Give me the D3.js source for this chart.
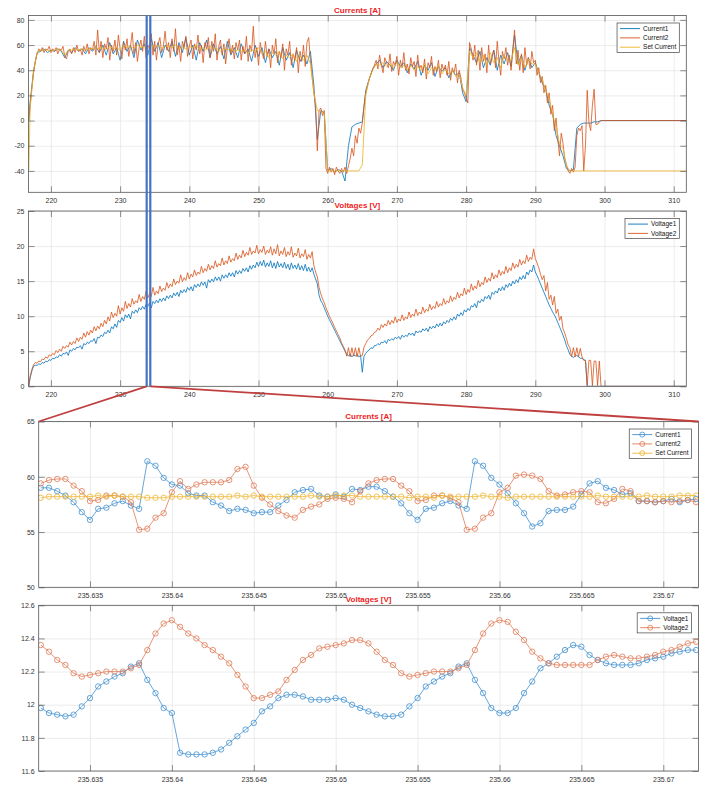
<!DOCTYPE html>
<html>
<head>
<meta charset="utf-8">
<script src="https://cdn.jsdelivr.net/npm/d3@7"></script>
<style>
  body { margin: 0; background: #fff; }
  svg { display: block; font-family: "Liberation Sans", Arial, sans-serif; }
  .tick text { fill: #333; font-size: 7px; }
  .grid line { stroke: #e4e4e4; stroke-width: 0.7; }
  .grid .domain, .axis .domain { display: none; }
  .axis line { stroke: #444; stroke-width: 0.6; }
  .frame { fill: none; stroke: #555; stroke-width: 0.8; }
  .title { fill: #ee1c25; font-size: 8px; font-weight: bold; text-anchor: middle; }
  .legend rect { fill: #fff; stroke: #444; stroke-width: 0.7; }
  .legend text { font-size: 6.5px; fill: #111; }
</style>
</head>
<body>
<div id="chart"></div>
<script>
// ---------- overview data (top two panels) ----------
// coarse grid, 0.5 s
const timeTop = [216.8,
  217, 217.5, 218, 218.5, 219, 219.5, 220, 220.5, 221, 221.5, 222, 222.5, 223, 223.5, 224, 224.5, 225, 225.5, 226, 226.5,
  227, 227.5, 228, 228.5, 229, 229.5, 230, 230.5, 231, 231.5, 232, 232.5, 233, 233.5, 234, 234.5, 235, 235.5, 236, 236.5,
  237, 237.5, 238, 238.5, 239, 239.5, 240, 240.5, 241, 241.5, 242, 242.5, 243, 243.5, 244, 244.5, 245, 245.5, 246, 246.5,
  247, 247.5, 248, 248.5, 249, 249.5, 250, 250.5, 251, 251.5, 252, 252.5, 253, 253.5, 254, 254.5, 255, 255.5, 256, 256.5,
  257, 257.5, 258, 258.5, 259, 259.5, 260, 260.5, 261, 261.5, 262, 262.5, 263, 263.5, 264, 264.5, 265, 265.5, 266, 266.5,
  267, 267.5, 268, 268.5, 269, 269.5, 270, 270.5, 271, 271.5, 272, 272.5, 273, 273.5, 274, 274.5, 275, 275.5, 276, 276.5,
  277, 277.5, 278, 278.5, 279, 279.5, 280, 280.5, 281, 281.5, 282, 282.5, 283, 283.5, 284, 284.5, 285, 285.5, 286, 286.5,
  287, 287.5, 288, 288.5, 289, 289.5, 290, 290.5, 291, 291.5, 292, 292.5, 293, 293.5, 294, 294.5, 295, 295.5, 296, 296.5,
  297, 297.5, 298, 298.5, 299, 299.5,
  300, 311.8];

// fine grid, 0.25 s
const timeFine = [216.8,
  217, 217.25, 217.5, 217.75, 218, 218.25, 218.5, 218.75, 219, 219.25, 219.5, 219.75, 220, 220.25, 220.5, 220.75, 221, 221.25, 221.5, 221.75,
  222, 222.25, 222.5, 222.75, 223, 223.25, 223.5, 223.75, 224, 224.25, 224.5, 224.75, 225, 225.25, 225.5, 225.75, 226, 226.25, 226.5, 226.75,
  227, 227.25, 227.5, 227.75, 228, 228.25, 228.5, 228.75, 229, 229.25, 229.5, 229.75, 230, 230.25, 230.5, 230.75, 231, 231.25, 231.5, 231.75,
  232, 232.25, 232.5, 232.75, 233, 233.25, 233.5, 233.75, 234, 234.25, 234.5, 234.75, 235, 235.25, 235.5, 235.75, 236, 236.25, 236.5, 236.75,
  237, 237.25, 237.5, 237.75, 238, 238.25, 238.5, 238.75, 239, 239.25, 239.5, 239.75, 240, 240.25, 240.5, 240.75, 241, 241.25, 241.5, 241.75,
  242, 242.25, 242.5, 242.75, 243, 243.25, 243.5, 243.75, 244, 244.25, 244.5, 244.75, 245, 245.25, 245.5, 245.75, 246, 246.25, 246.5, 246.75,
  247, 247.25, 247.5, 247.75, 248, 248.25, 248.5, 248.75, 249, 249.25, 249.5, 249.75, 250, 250.25, 250.5, 250.75, 251, 251.25, 251.5, 251.75,
  252, 252.25, 252.5, 252.75, 253, 253.25, 253.5, 253.75, 254, 254.25, 254.5, 254.75, 255, 255.25, 255.5, 255.75, 256, 256.25, 256.5, 256.75,
  257, 257.25, 257.5, 257.75, 258, 258.25, 258.5, 258.75, 259, 259.25, 259.5, 259.75, 260, 260.25, 260.5, 260.75, 261, 261.25, 261.5, 261.75,
  262, 262.25, 262.5, 262.75, 263, 263.25, 263.5, 263.75, 264, 264.25, 264.5, 264.75, 265, 265.25, 265.5, 265.75, 266, 266.25, 266.5, 266.75,
  267, 267.25, 267.5, 267.75, 268, 268.25, 268.5, 268.75, 269, 269.25, 269.5, 269.75, 270, 270.25, 270.5, 270.75, 271, 271.25, 271.5, 271.75,
  272, 272.25, 272.5, 272.75, 273, 273.25, 273.5, 273.75, 274, 274.25, 274.5, 274.75, 275, 275.25, 275.5, 275.75, 276, 276.25, 276.5, 276.75,
  277, 277.25, 277.5, 277.75, 278, 278.25, 278.5, 278.75, 279, 279.25, 279.5, 279.75, 280, 280.25, 280.5, 280.75, 281, 281.25, 281.5, 281.75,
  282, 282.25, 282.5, 282.75, 283, 283.25, 283.5, 283.75, 284, 284.25, 284.5, 284.75, 285, 285.25, 285.5, 285.75, 286, 286.25, 286.5, 286.75,
  287, 287.25, 287.5, 287.75, 288, 288.25, 288.5, 288.75, 289, 289.25, 289.5, 289.75, 290, 290.25, 290.5, 290.75, 291, 291.25, 291.5, 291.75,
  292, 292.25, 292.5, 292.75, 293, 293.25, 293.5, 293.75, 294, 294.25, 294.5, 294.75, 295, 295.25, 295.5, 295.75, 296, 296.25, 296.5, 296.75,
  297, 297.25, 297.5, 297.75, 298, 298.25, 298.5, 298.75, 299, 299.25, 299.5, 299.75,
  300, 311.8];

const current1Top = [0,
  15, 40, 54, 55, 57, 54, 56, 55, 57, 55, 50, 56, 54, 58, 55, 57, 53, 58, 55, 59,
  54, 60, 52, 62, 53, 58, 48, 63, 55, 60, 50, 64, 56, 61, 52, 65, 55, 62, 50, 60,
  55, 63, 51, 62, 54, 66, 52, 60, 48, 62, 55, 64, 50, 61, 53, 59, 49, 63, 52, 58,
  50, 61, 53, 57, 47, 60, 51, 58, 46, 57, 50, 55, 44, 58, 48, 54, 42, 56, 47, 52,
  45, 55, 28, -15, 8, 6, -40, -38, -41, -39, -40, -48, -20, -5, -3, -2, -1, 24, 33, 41,
  45, 48, 42, 47, 44, 40, 48, 43, 46, 38, 45, 41, 47, 36, 44, 40, 46, 35, 43, 39,
  42, 34, 40, 36, 38, 22, 15, 58, 52, 46, 55, 42, 50, 44, 56, 40, 52, 45, 54, 43,
  68, 45, 52, 40, 50, 42, 46, 38, 30, 25, 12, 5, -12, -20, -28, -38, -40, -39, -6, -3,
  -2, -2, -2, -1, -1, 0,
  0, 0];

const current2Fine = [0,
  12, 26, 38, 47, 53, 57, 55, 58, 54, 57, 56, 59, 54, 57, 55, 58, 53, 57, 56, 59,
  51, 49, 55, 57, 53, 58, 54, 60, 55, 57, 52, 59, 55, 61, 53, 58, 56, 63, 52, 72,
  54, 63, 50, 61, 57, 66, 48, 60, 55, 64, 52, 68, 57, 49, 62, 56, 65, 51, 59, 70,
  53, 62, 47, 58, 64, 55, 67, 50, 60, 57, 69, 52, 63, 48, 61, 66, 54, 59, 71, 56,
  62, 50, 65, 55, 73, 52, 60, 47, 63, 58, 67, 51, 59, 64, 49, 61, 56, 68, 53, 60,
  46, 62, 57, 66, 50, 63, 55, 69, 48, 59, 64, 52, 61, 45, 58, 65, 53, 60, 49, 62,
  56, 64, 48, 59, 53, 67, 47, 60, 55, 75, 50, 58, 44, 62, 54, 49, 63, 51, 57, 42,
  60, 53, 65, 46, 55, 50, 61, 40, 57, 52, 63, 44, 53, 48, 58, 38, 55, 47, 60, 43,
  62, 66, 48, 35, 22, 12, -24, 8, 10, 4, 8, -38, -42, -37, -41, -38, -43, -37, -40, -42,
  -38, -41, -37, -42, -36, -30, -22, -28, -12, -18, -6, -10, -2, 12, 22, 28, 33, 37, 41, 44,
  48, 41, 52, 44, 38, 50, 46, 42, 53, 39, 47, 44, 51, 36, 48, 42, 54, 40, 45, 37,
  50, 43, 47, 35, 52, 41, 44, 38, 49, 33, 46, 42, 51, 36, 43, 39, 48, 34, 45, 40,
  44, 36, 47, 32, 42, 38, 45, 30, 40, 34, 25, 22, 18, 14, 62, 57, 48, 60, 44, 56,
  40, 58, 47, 53, 38, 60, 45, 52, 56, 42, 63, 47, 36, 55, 49, 58, 44, 52, 40, 57,
  72, 45, 56, 40, 53, 38, 58, 44, 50, 41, 55, 46, 48, 36, 42, 30, 35, 22, 28, 14,
  22, 5, 12, -8, 2, -15, -28, -10, -18, -30, -35, -40, -42, -38, -41, -37, -12, -6, -8, -4,
  -40, -20, 24, -2, -8, 12, 25, -3, -3, -1, 0, 0,
  0, 0];

const setCurrentTop = [-40,
  10, 40, 54, 56, 56, 56, 55, 56, 57, 56, 52, 56, 56, 57, 56, 57, 56, 57, 57, 58,
  57, 58, 56, 59, 57, 58, 56, 60, 58, 59, 57, 60, 58, 59, 57, 60, 58, 60, 57, 59,
  59, 58, 60, 57, 58, 57, 59, 58, 60, 56, 58, 56, 59, 57, 57, 55, 58, 56, 57, 55,
  56, 55, 56, 53, 56, 55, 58, 53, 55, 50, 54, 52, 55, 49, 52, 50, 53, 47, 52, 48,
  52, 45, 22, 8, 7, 6, -40, -40, -40, -40, -40, -40, -40, -40, -40, -40, -35, 20, 33, 40,
  45, 44, 46, 43, 45, 42, 46, 42, 44, 40, 44, 40, 43, 40, 45, 37, 42, 40, 44, 37,
  41, 37, 40, 35, 37, 26, 20, 55, 50, 54, 46, 52, 44, 54, 46, 50, 42, 52, 47, 48,
  58, 44, 50, 42, 49, 45, 45, 38, 33, 24, 18, 5, -5, -18, -22, -36, -40, -40, -40, -40,
  -40, -40, -40, -40, -40, -40,
  -40, -40];

const voltage1Fine = [0,
  1.2, 2.2, 2.9, 3.0, 3.0, 3.2, 3.1, 3.4, 3.3, 3.6, 3.5, 3.8, 3.7, 4.0, 3.9, 4.2, 4.1, 4.5, 4.3, 4.7,
  4.6, 4.9, 4.4, 5.2, 5.0, 5.4, 5.2, 5.6, 5.5, 5.8, 5.3, 6.1, 5.9, 6.3, 6.1, 6.5, 6.4, 6.8, 6.1, 7.0,
  6.9, 7.3, 7.1, 7.7, 7.5, 8.0, 7.6, 8.5, 8.2, 8.9, 8.4, 9.4, 9.1, 9.8, 9.3, 10.2, 9.8, 10.3, 9.6, 10.7,
  10.4, 10.9, 10.5, 11.2, 10.9, 11.4, 11.0, 11.7, 11.4, 11.9, 11.2, 12.1, 11.8, 12.3, 11.9, 12.5, 12.1, 12.6, 12.2, 12.9,
  12.5, 13.0, 12.6, 13.3, 12.9, 13.4, 12.8, 13.7, 13.3, 13.8, 13.4, 14.1, 13.7, 14.2, 13.6, 14.5, 14.1, 14.6, 14.2, 14.9,
  14.4, 14.9, 14.0, 15.2, 14.8, 15.3, 14.9, 15.6, 15.1, 15.6, 15.0, 15.9, 15.4, 15.9, 15.5, 16.2, 15.7, 16.2, 15.6, 16.5,
  16.0, 16.5, 16.1, 16.8, 16.4, 16.9, 16.3, 17.2, 16.7, 17.3, 16.9, 17.7, 17.1, 17.8, 17.2, 18.0, 17.0, 17.6, 17.1, 17.9,
  16.9, 17.6, 16.8, 17.8, 17.0, 17.5, 16.9, 17.7, 16.8, 17.4, 16.6, 17.6, 16.8, 17.3, 16.7, 17.5, 16.6, 17.2, 16.5, 17.4,
  16.4, 17.0, 16.3, 16.9, 16.0, 15.3, 14.6, 13.0, 12.2, 11.8, 11.2, 10.6, 10.0, 9.5, 9.0, 8.5, 8.0, 7.5, 7.0, 6.5,
  6.0, 5.5, 5.0, 4.6, 4.3, 4.6, 4.2, 4.5, 4.3, 4.6, 4.2, 4.4, 2.0, 4.3, 4.7, 5.0, 5.2, 5.5, 5.4, 5.8,
  5.8, 6.1, 5.9, 6.3, 6.2, 6.5, 6.1, 6.7, 6.5, 6.8, 6.6, 7.0, 6.8, 7.1, 6.7, 7.3, 7.0, 7.3, 7.1, 7.6,
  7.3, 7.6, 7.2, 7.9, 7.6, 7.9, 7.7, 8.2, 7.9, 8.3, 7.8, 8.5, 8.2, 8.6, 8.3, 8.9, 8.5, 9.0, 8.6, 9.2,
  8.9, 9.4, 9.1, 9.7, 9.4, 9.9, 9.5, 10.3, 10.0, 10.5, 10.1, 10.9, 10.6, 11.1, 10.8, 11.5, 11.3, 11.8, 11.2, 12.2,
  11.9, 12.4, 12.1, 12.8, 12.5, 13.0, 12.4, 13.4, 13.1, 13.6, 13.3, 14.0, 13.6, 14.2, 13.7, 14.5, 14.1, 14.7, 14.3, 15.0,
  14.6, 15.2, 14.8, 15.6, 15.2, 15.8, 15.3, 16.3, 15.9, 16.6, 16.3, 17.3, 16.3, 15.8, 15.2, 14.6, 14.0, 13.4, 12.8, 12.2,
  11.6, 11.1, 10.6, 10.2, 9.7, 9.1, 8.5, 7.9, 7.3, 6.6, 5.8, 5.2, 4.5, 4.3, 4.1, 4.3, 4.4, 4.2, 4.0, 4.0,
  3.8, 3.7, 0, 0, 0, 0, 0, 0, 0, 0, 0, 0,
  0, 0];

const voltage2Fine = [0,
  1.5, 2.4, 3.1, 3.4, 3.3, 3.6, 3.5, 3.9, 3.8, 4.2, 4.0, 4.5, 4.3, 4.7, 4.5, 5.1, 4.8, 5.3, 5.0, 5.7,
  5.4, 5.8, 5.6, 6.3, 5.9, 6.4, 6.1, 6.9, 6.4, 7.0, 6.7, 7.6, 7.0, 7.8, 7.3, 8.0, 7.6, 8.5, 7.9, 8.6,
  8.2, 9.0, 8.5, 9.4, 8.9, 9.9, 9.3, 10.6, 9.8, 10.4, 10.0, 11.5, 10.3, 11.2, 10.7, 12.1, 11.1, 11.8, 11.3, 12.5,
  11.7, 12.2, 11.9, 13.1, 12.1, 12.8, 12.4, 13.6, 12.6, 13.2, 12.8, 14.1, 13.0, 13.6, 13.2, 14.3, 13.5, 14.0, 13.7, 14.8,
  14.0, 14.6, 14.2, 15.3, 14.5, 15.0, 14.7, 15.9, 14.9, 15.5, 15.1, 16.2, 15.3, 16.0, 15.6, 16.6, 15.8, 16.3, 16.0, 17.1,
  16.2, 16.8, 16.4, 17.4, 16.6, 17.2, 16.8, 17.9, 17.0, 17.5, 17.2, 18.3, 17.3, 17.9, 17.5, 18.6, 17.7, 18.2, 17.9, 19.0,
  18.1, 18.7, 18.3, 19.4, 18.5, 19.1, 18.7, 19.8, 18.8, 19.3, 19.0, 20.1, 18.9, 19.5, 19.1, 20.0, 18.8, 19.4, 19.0, 19.9,
  18.7, 19.6, 18.9, 20.2, 18.6, 19.3, 18.8, 19.8, 18.5, 19.2, 18.7, 19.9, 18.4, 19.0, 18.6, 19.7, 18.3, 18.9, 18.5, 19.5,
  18.1, 18.8, 18.3, 19.2, 17.2, 16.3, 15.6, 14.1, 13.2, 12.5, 11.9, 11.2, 10.6, 10.0, 9.5, 9.0, 8.4, 7.9, 7.4, 6.9,
  6.2, 5.7, 5.2, 4.3, 5.5, 4.2, 5.5, 4.3, 5.5, 4.2, 5.5, 4.3, 4.4, 5.6, 6.1, 6.6, 6.8, 7.2, 7.3, 7.7,
  7.8, 8.3, 8.0, 8.8, 8.4, 8.9, 8.6, 9.4, 8.8, 9.4, 9.0, 9.9, 9.1, 9.6, 9.3, 10.2, 9.4, 9.9, 9.6, 10.6,
  9.8, 10.3, 10.0, 11.0, 10.1, 10.6, 10.3, 11.3, 10.5, 11.0, 10.7, 11.7, 10.9, 11.4, 11.1, 12.1, 11.3, 11.8, 11.5, 12.5,
  11.7, 12.2, 11.9, 12.9, 12.1, 12.7, 12.4, 13.4, 12.6, 13.2, 12.9, 14.0, 13.1, 13.8, 13.4, 14.6, 13.7, 14.3, 13.9, 15.1,
  14.2, 14.8, 14.5, 15.6, 14.8, 15.4, 15.0, 16.2, 15.3, 15.9, 15.5, 16.6, 15.8, 16.4, 16.0, 17.1, 16.2, 16.9, 16.5, 17.6,
  16.8, 17.4, 17.0, 18.1, 17.3, 17.9, 17.5, 18.7, 17.8, 18.4, 18.1, 19.6, 18.2, 17.6, 16.9, 16.0, 15.2, 15.8, 13.6, 14.8,
  12.4, 13.0, 11.6, 12.8, 10.4, 11.0, 9.4, 10.0, 8.2, 7.6, 6.8, 5.9, 5.5, 4.2, 5.5, 4.2, 5.5, 4.2, 5.4, 4.2,
  3.7, 3.7, 0.1, 3.7, 3.7, 0.1, 3.6, 3.6, 0.1, 3.6, 0, 0,
  0, 0];

// ---------- zoomed window (bottom two panels), sampled every 0.5 ms ----------
const timeZoom = [
  235.632, 235.6325, 235.633, 235.6335, 235.634, 235.6345, 235.635, 235.6355, 235.636, 235.6365,
  235.637, 235.6375, 235.638, 235.6385, 235.639, 235.6395, 235.64, 235.6405, 235.641, 235.6415,
  235.642, 235.6425, 235.643, 235.6435, 235.644, 235.6445, 235.645, 235.6455, 235.646, 235.6465,
  235.647, 235.6475, 235.648, 235.6485, 235.649, 235.6495, 235.65, 235.6505, 235.651, 235.6515,
  235.652, 235.6525, 235.653, 235.6535, 235.654, 235.6545, 235.655, 235.6555, 235.656, 235.6565,
  235.657, 235.6575, 235.658, 235.6585, 235.659, 235.6595, 235.66, 235.6605, 235.661, 235.6615,
  235.662, 235.6625, 235.663, 235.6635, 235.664, 235.6645, 235.665, 235.6655, 235.666, 235.6665,
  235.667, 235.6675, 235.668, 235.6685, 235.669, 235.6695, 235.67, 235.6705, 235.671, 235.6715,
  235.672];

const current1Zoom = [
  59.0, 59.0, 58.7, 58.3, 57.7, 56.8, 56.1, 57.1, 57.2, 57.6,
  57.8, 57.4, 57.1, 61.4, 61.0, 59.9, 59.3, 59.2, 58.5, 58.3,
  58.3, 57.7, 57.4, 56.9, 57.1, 57.0, 56.7, 56.8, 56.8, 57.4,
  57.9, 58.6, 58.8, 58.9, 58.3, 58.2, 58.4, 58.2, 58.9, 58.8,
  59.1, 59.1, 58.7, 58.2, 57.6, 56.7, 56.1, 57.1, 57.2, 57.6,
  57.8, 57.4, 57.1, 61.4, 61.0, 59.9, 59.3, 58.5, 57.6, 56.7,
  55.5, 55.8, 56.9, 57.0, 57.0, 57.3, 58.4, 59.4, 59.6, 59.0,
  58.8, 58.4, 58.5, 57.8, 57.8, 57.7, 57.8, 58.0, 57.7, 57.9,
  58.0];

const current2Zoom = [
  59.4, 59.7, 59.8, 59.8, 59.2, 58.7, 57.8, 57.9, 58.3, 58.3,
  58.2, 57.7, 55.2, 55.3, 56.3, 56.7, 58.6, 59.6, 58.9, 59.3,
  59.5, 59.5, 59.5, 59.7, 60.7, 60.9, 59.2, 58.1, 57.5, 56.9,
  56.5, 56.3, 57.0, 57.3, 57.5, 58.0, 58.1, 58.0, 57.7, 58.7,
  59.4, 59.7, 59.8, 59.8, 59.2, 58.7, 57.8, 57.9, 58.3, 58.3,
  58.1, 57.7, 55.2, 55.3, 56.3, 56.7, 58.6, 59.0, 60.1, 60.2,
  60.1, 59.8, 58.7, 58.3, 58.4, 58.6, 58.7, 58.6, 57.7, 57.6,
  58.0, 58.9, 58.7, 57.8, 57.8, 57.7, 57.8, 57.7, 57.8, 57.9,
  57.7];

const setCurrentZoom = [
  58.1, 58.2, 58.2, 58.2, 58.2, 58.2, 58.2, 58.3, 58.2, 58.3,
  58.2, 58.2, 58.2, 58.1, 58.1, 58.1, 58.2, 58.2, 58.2, 58.2,
  58.2, 58.2, 58.2, 58.2, 58.3, 58.2, 58.3, 58.2, 58.2, 58.2,
  58.2, 58.2, 58.2, 58.3, 58.2, 58.2, 58.3, 58.3, 58.3, 58.2,
  58.2, 58.2, 58.2, 58.2, 58.2, 58.1, 58.2, 58.2, 58.1, 58.3,
  58.2, 58.2, 58.2, 58.2, 58.3, 58.2, 58.2, 58.1, 58.2, 58.2,
  58.2, 58.2, 58.2, 58.2, 58.2, 58.2, 58.2, 58.2, 58.3, 58.2,
  58.2, 58.2, 58.2, 58.2, 58.3, 58.2, 58.2, 58.2, 58.3, 58.3,
  58.3];

const voltage1Zoom = [
  11.98, 11.95, 11.94, 11.93, 11.94, 11.99, 12.04, 12.11, 12.14, 12.17,
  12.19, 12.23, 12.25, 12.15, 12.07, 11.98, 11.95, 11.71, 11.70, 11.70,
  11.70, 11.71, 11.73, 11.77, 11.81, 11.85, 11.89, 11.96, 11.99, 12.04,
  12.06, 12.06, 12.05, 12.03, 12.03, 12.03, 12.04, 12.03, 12.00, 11.98,
  11.96, 11.94, 11.93, 11.93, 11.94, 11.99, 12.04, 12.11, 12.14, 12.17,
  12.19, 12.23, 12.25, 12.15, 12.07, 11.98, 11.95, 11.95, 11.98, 12.07,
  12.14, 12.22, 12.25, 12.29, 12.33, 12.36, 12.35, 12.30, 12.27, 12.25,
  12.24, 12.24, 12.24, 12.25, 12.27, 12.28, 12.29, 12.31, 12.32, 12.33,
  12.33];

const voltage2Zoom = [
  12.36, 12.32, 12.27, 12.24, 12.19, 12.17, 12.18, 12.19, 12.20, 12.20,
  12.20, 12.22, 12.24, 12.33, 12.43, 12.49, 12.51, 12.47, 12.43, 12.40,
  12.36, 12.33, 12.29, 12.25, 12.18, 12.11, 12.04, 12.04, 12.06, 12.08,
  12.15, 12.21, 12.27, 12.30, 12.34, 12.35, 12.36, 12.37, 12.39, 12.39,
  12.37, 12.32, 12.27, 12.24, 12.19, 12.17, 12.18, 12.19, 12.20, 12.20,
  12.20, 12.22, 12.24, 12.33, 12.43, 12.49, 12.51, 12.50, 12.44, 12.39,
  12.32, 12.28, 12.25, 12.24, 12.24, 12.24, 12.24, 12.24, 12.27, 12.29,
  12.30, 12.29, 12.28, 12.28, 12.29, 12.30, 12.32, 12.33, 12.35, 12.37,
  12.38];

// ---------- tick labels ----------
const xTicksTop = [220, 230, 240, 250, 260, 270, 280, 290, 300, 310];
const yTicksCurrent = [-40, -20, 0, 20, 40, 60, 80];
const yTicksVoltage = [0, 5, 10, 15, 20, 25];
const xTicksZoom = [235.635, 235.64, 235.645, 235.65, 235.655, 235.66, 235.665, 235.67];
const yTicksCurrentZoom = [50, 55, 60, 65];
const yTicksVoltageZoom = [11.6, 11.8, 12, 12.2, 12.4, 12.6];

// window shown in the lower panels, as marked on the overview
const zoomMarks = [233.84, 234.36];

let clipCount = 0;

class LinePanel {
  constructor(_config, _series) {
    this.config = {
      parentElement: _config.parentElement,
      left: _config.left,
      top: _config.top,
      width: _config.width,
      height: _config.height,
      title: _config.title,
      xDomain: _config.xDomain,
      yDomain: _config.yDomain,
      xTicks: _config.xTicks,
      yTicks: _config.yTicks,
      markers: _config.markers || false,
      lineWidth: _config.lineWidth || 0.8,
      tickLength: 6
    };
    this.series = _series;
    this.initVis();
  }

  initVis() {
    let vis = this;
    const c = vis.config;

    vis.xScale = d3.scaleLinear().domain(c.xDomain).range([0, c.width]);
    vis.yScale = d3.scaleLinear().domain(c.yDomain).range([c.height, 0]);

    vis.chart = d3.select(c.parentElement).append('g')
        .attr('transform', `translate(${c.left},${c.top})`);

    vis.clipId = 'clip' + (clipCount++);
    vis.chart.append('clipPath').attr('id', vis.clipId)
      .append('rect')
        .attr('width', c.width)
        .attr('height', c.height);

    // grid lines
    vis.chart.append('g')
        .attr('class', 'grid')
        .attr('transform', `translate(0,${c.height})`)
        .call(d3.axisBottom(vis.xScale).tickValues(c.xTicks).tickSize(-c.height).tickFormat(''));
    vis.chart.append('g')
        .attr('class', 'grid')
        .call(d3.axisLeft(vis.yScale).tickValues(c.yTicks).tickSize(-c.width).tickFormat(''));

    vis.plot = vis.chart.append('g').attr('clip-path', `url(#${vis.clipId})`);

    vis.renderVis();
  }

  renderVis() {
    let vis = this;
    const c = vis.config;

    vis.series.forEach(s => {
      const line = d3.line()
          .x((d, i) => vis.xScale(s.times[i]))
          .y(d => vis.yScale(d));

      vis.plot.append('path')
          .datum(s.values)
          .attr('fill', 'none')
          .attr('stroke', s.color)
          .attr('stroke-width', c.lineWidth)
          .attr('stroke-linejoin', 'round')
          .attr('d', line);

      if (c.markers) {
        vis.plot.append('g').selectAll('circle')
            .data(s.values)
          .join('circle')
            .attr('cx', (d, i) => vis.xScale(s.times[i]))
            .attr('cy', d => vis.yScale(d))
            .attr('r', 2.7)
            .attr('fill', 'none')
            .attr('stroke', s.color)
            .attr('stroke-width', 0.8);
      }
    });

    // axes: labelled bottom/left, tick-only top/right (ticks point inward)
    const tl = c.tickLength;
    vis.chart.append('g')
        .attr('class', 'axis')
        .attr('transform', `translate(0,${c.height})`)
        .call(d3.axisBottom(vis.xScale).tickValues(c.xTicks).tickFormat(d => String(d))
          .tickSizeInner(-tl).tickSizeOuter(0).tickPadding(6));
    vis.chart.append('g')
        .attr('class', 'axis')
        .call(d3.axisLeft(vis.yScale).tickValues(c.yTicks).tickFormat(d => String(d))
          .tickSizeInner(-tl).tickSizeOuter(0).tickPadding(4));
    vis.chart.append('g')
        .attr('class', 'axis')
        .call(d3.axisTop(vis.xScale).tickValues(c.xTicks).tickFormat('')
          .tickSizeInner(-tl).tickSizeOuter(0));
    vis.chart.append('g')
        .attr('class', 'axis')
        .attr('transform', `translate(${c.width},0)`)
        .call(d3.axisRight(vis.yScale).tickValues(c.yTicks).tickFormat('')
          .tickSizeInner(-tl).tickSizeOuter(0));

    vis.chart.append('rect')
        .attr('class', 'frame')
        .attr('width', c.width)
        .attr('height', c.height);

    vis.chart.append('text')
        .attr('class', 'title')
        .attr('x', c.width / 2)
        .attr('y', -3)
        .text(c.title);

    vis.renderLegend();
  }

  renderLegend() {
    let vis = this;
    const c = vis.config;
    const rowH = 9.3;

    const legend = vis.chart.append('g').attr('class', 'legend');
    const box = legend.append('rect');

    const rows = legend.selectAll('g.row')
        .data(vis.series)
      .join('g')
        .attr('class', 'row')
        .attr('transform', (d, i) => `translate(0,${5.6 + i * rowH})`);

    rows.append('line')
        .attr('x1', 3).attr('x2', 23)
        .attr('stroke', d => d.color)
        .attr('stroke-width', 0.9);
    if (c.markers) {
      rows.append('circle')
          .attr('cx', 13).attr('r', 2.5)
          .attr('fill', 'none')
          .attr('stroke', d => d.color)
          .attr('stroke-width', 0.8);
    }
    rows.append('text')
        .attr('x', 26)
        .attr('dy', '0.34em')
        .text(d => d.name);

    const textW = d3.max(legend.selectAll('text').nodes(), n => n.getComputedTextLength());
    const w = 26 + textW + 3;
    const h = vis.series.length * rowH + 1.5;
    box.attr('width', w).attr('height', h);
    legend.attr('transform', `translate(${c.width - 7 - w},7.5)`);
  }
}

const svg = d3.select('#chart').append('svg')
    .attr('width', 704)
    .attr('height', 785);

const currentsTop = new LinePanel({
  parentElement: svg.node(),
  left: 28.5, top: 15.5, width: 657.8, height: 176.8,
  title: 'Currents [A]',
  xDomain: [216.76, 311.82], yDomain: [-57, 83.5],
  xTicks: xTicksTop, yTicks: yTicksCurrent
}, [
  { name: 'Current1', times: timeTop, values: current1Top, color: '#0072bd' },
  { name: 'Current2', times: timeFine, values: current2Fine, color: '#d95319' },
  { name: 'Set Current', times: timeTop, values: setCurrentTop, color: '#edb120' }
]);

const voltagesTop = new LinePanel({
  parentElement: svg.node(),
  left: 28.5, top: 211, width: 657.8, height: 175.3,
  title: 'Voltages [V]',
  xDomain: [216.76, 311.82], yDomain: [0, 25],
  xTicks: xTicksTop, yTicks: yTicksVoltage
}, [
  { name: 'Voltage1', times: timeFine, values: voltage1Fine, color: '#0072bd' },
  { name: 'Voltage2', times: timeFine, values: voltage2Fine, color: '#d95319' }
]);

const currentsZoom = new LinePanel({
  parentElement: svg.node(),
  left: 38.7, top: 421.5, width: 659.8, height: 165.8,
  title: 'Currents [A]',
  xDomain: [235.63187, 235.67215], yDomain: [50, 65],
  xTicks: xTicksZoom, yTicks: yTicksCurrentZoom,
  markers: true
}, [
  { name: 'Current1', times: timeZoom, values: current1Zoom, color: '#4190d0' },
  { name: 'Current2', times: timeZoom, values: current2Zoom, color: '#e07a55' },
  { name: 'Set Current', times: timeZoom, values: setCurrentZoom, color: '#efb532' }
]);

const voltagesZoom = new LinePanel({
  parentElement: svg.node(),
  left: 38.7, top: 605.3, width: 659.8, height: 165.7,
  title: 'Voltages [V]',
  xDomain: [235.63187, 235.67215], yDomain: [11.6, 12.6],
  xTicks: xTicksZoom, yTicks: yTicksVoltageZoom,
  markers: true
}, [
  { name: 'Voltage1', times: timeZoom, values: voltage1Zoom, color: '#4190d0' },
  { name: 'Voltage2', times: timeZoom, values: voltage2Zoom, color: '#e07a55' }
]);

// zoom-window markers across the two overview panels, and connectors to the detail panel
const markX = zoomMarks.map(t => currentsTop.config.left + currentsTop.xScale(t));
const markTop = currentsTop.config.top;
const markBottom = voltagesTop.config.top + voltagesTop.yScale(0);
const detailTop = currentsZoom.config.top;
const detailLeft = currentsZoom.config.left;
const detailRight = currentsZoom.config.left + currentsZoom.config.width;

svg.append('g').selectAll('line')
    .data(markX)
  .join('line')
    .attr('x1', d => d).attr('x2', d => d)
    .attr('y1', markTop).attr('y2', markBottom)
    .attr('stroke', '#4573c4')
    .attr('stroke-width', 2.2);

svg.append('g').selectAll('line')
    .data([[markX[0], detailLeft], [markX[1], detailRight]])
  .join('line')
    .attr('x1', d => d[0]).attr('y1', markBottom)
    .attr('x2', d => d[1]).attr('y2', detailTop)
    .attr('stroke', '#c0403f')
    .attr('stroke-width', 1.8);
</script>
</body>
</html>
